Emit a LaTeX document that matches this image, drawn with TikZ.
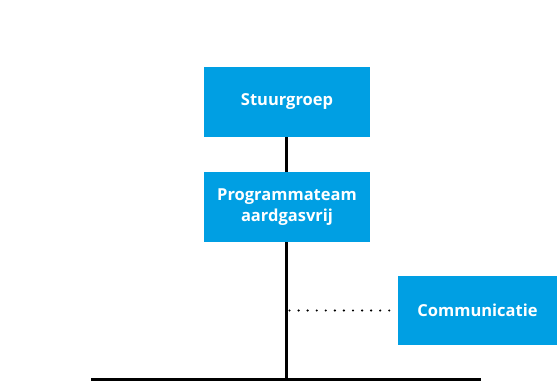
\documentclass[tikz,border=0pt]{standalone}
\usepackage{fontspec}
\setmainfont{Open Sans}
\usetikzlibrary{positioning}

\definecolor{orgblue}{HTML}{009FE3}

\tikzset{
  orgbox/.style={fill=orgblue, text=white, font=\bfseries\fontsize{16.5}{21}\selectfont,
    align=center, inner sep=0pt, minimum width=166pt, minimum height=70pt},
  orgline/.style={line width=3pt},
}

\begin{document}
\begin{tikzpicture}[x=1pt,y=-1pt]
  \useasboundingbox (0,0) rectangle (557,381);

  \node[orgbox] (stuurgroep) at (287,102) {Stuurgroep};
  \node[orgbox] (programmateam) at (287,207) {Programmateam\\aardgasvrij};
  \node[orgbox, minimum width=159pt, minimum height=69pt] (communicatie) at (477.5,310.5) {Communicatie};

  \coordinate (links) at (91,379.5);
  \coordinate (rechts) at (481,379.5);
  \coordinate (knoop) at (286.5,379.5);
  \coordinate (tak) at (286.5,310.5);

  \begin{scope}[orgline]
  \draw ([xshift=-0.5pt]stuurgroep.south) -- ([xshift=-0.5pt]programmateam.north);
  \draw ([xshift=-0.5pt]programmateam.south) -- (knoop);
  \draw (links) -- (rechts);
  \end{scope}
  \draw[line width=2.4pt, dash pattern=on 0pt off 9.07pt, line cap=round]
    ([xshift=3pt]tak) -- ([xshift=0.5pt]communicatie.west);
\end{tikzpicture}
\end{document}
